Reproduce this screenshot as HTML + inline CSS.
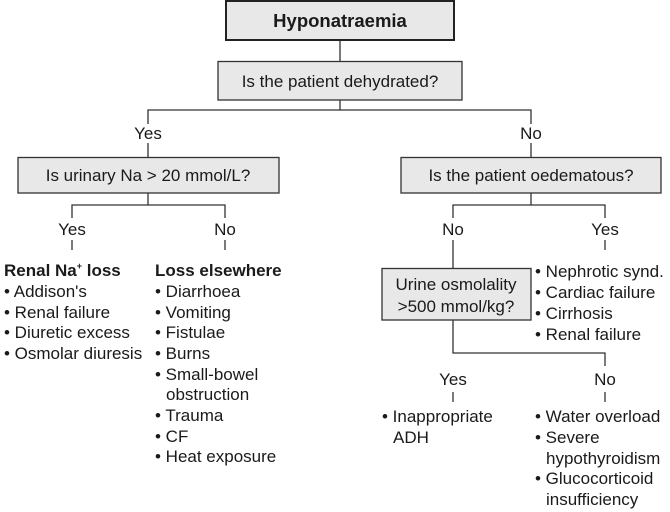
<!DOCTYPE html>
<html><head><style>
body{margin:0;background:#fff}
svg{display:block}
text{font-family:"Liberation Sans",Arial,sans-serif;fill:#1a1a1a}
</style></head><body>
<svg width="670" height="512" viewBox="0 0 670 512" xmlns="http://www.w3.org/2000/svg">
<g stroke="#333" stroke-width="1.3" fill="none">
<line x1="340" y1="40" x2="340" y2="61"/>
<polyline points="340,100 340,110 148,110 148,124"/>
<polyline points="340,110 531,110 531,124"/>
<line x1="148" y1="143" x2="148" y2="157"/>
<line x1="531" y1="143" x2="531" y2="157"/>
<polyline points="148,193 148,205 72,205 72,218"/>
<polyline points="148,205 225,205 225,218"/>
<line x1="72" y1="240" x2="72" y2="250"/>
<line x1="225" y1="240" x2="225" y2="250"/>
<polyline points="531,193 531,205 453,205 453,218"/>
<polyline points="531,205 605,205 605,218"/>
<line x1="453" y1="240" x2="453" y2="268"/>
<line x1="605" y1="240" x2="605" y2="250"/>
<polyline points="453,320 453,353 605,353 605,366"/>
<line x1="453" y1="392" x2="453" y2="402"/>
<line x1="605" y1="392" x2="605" y2="402"/>
</g>
<rect x="226" y="1" width="228" height="39" fill="#e8e8e8" stroke="#222" stroke-width="2"/>
<rect x="218" y="61.5" width="244" height="38.5" fill="#e8e8e8" stroke="#333" stroke-width="1.3"/>
<rect x="18" y="157.5" width="261" height="35.5" fill="#e8e8e8" stroke="#333" stroke-width="1.3"/>
<rect x="401" y="157.5" width="260" height="35.5" fill="#e8e8e8" stroke="#333" stroke-width="1.3"/>
<rect x="382" y="268.5" width="149" height="51.5" fill="#e8e8e8" stroke="#333" stroke-width="1.3"/>
<g font-size="17" text-anchor="middle">
<text x="340" y="27" font-weight="bold" font-size="18.5">Hyponatraemia</text>
<text x="340" y="87">Is the patient dehydrated?</text>
<text x="148" y="139">Yes</text>
<text x="531" y="139">No</text>
<text x="148" y="181">Is urinary Na &gt; 20 mmol/L?</text>
<text x="531" y="181">Is the patient oedematous?</text>
<text x="72" y="235">Yes</text>
<text x="225" y="235">No</text>
<text x="453" y="235">No</text>
<text x="605" y="235">Yes</text>
<text x="456" y="290">Urine osmolality</text>
<text x="456" y="312">&gt;500 mmol/kg?</text>
<text x="453" y="385">Yes</text>
<text x="605" y="385">No</text>
</g>
<g font-size="17">
<text x="4" y="276" font-weight="bold">Renal Na<tspan font-size="9" dy="-7">+</tspan><tspan dy="7"> loss</tspan></text>
<text x="4" y="297">• Addison's</text>
<text x="4" y="318">• Renal failure</text>
<text x="4" y="338">• Diuretic excess</text>
<text x="4" y="359">• Osmolar diuresis</text>
<text x="155" y="276" font-weight="bold">Loss elsewhere</text>
<text x="155" y="297">• Diarrhoea</text>
<text x="155" y="318">• Vomiting</text>
<text x="155" y="338">• Fistulae</text>
<text x="155" y="359">• Burns</text>
<text x="155" y="380">• Small-bowel</text>
<text x="166" y="400">obstruction</text>
<text x="155" y="421">• Trauma</text>
<text x="155" y="442">• CF</text>
<text x="155" y="462">• Heat exposure</text>
<text x="535" y="277">• Nephrotic synd.</text>
<text x="535" y="298">• Cardiac failure</text>
<text x="535" y="319">• Cirrhosis</text>
<text x="535" y="340">• Renal failure</text>
<text x="382" y="422">• Inappropriate</text>
<text x="393" y="443">ADH</text>
<text x="535" y="422">• Water overload</text>
<text x="535" y="443">• Severe</text>
<text x="546" y="464">hypothyroidism</text>
<text x="535" y="484">• Glucocorticoid</text>
<text x="546" y="505">insufficiency</text>
</g>
</svg>
</body></html>
